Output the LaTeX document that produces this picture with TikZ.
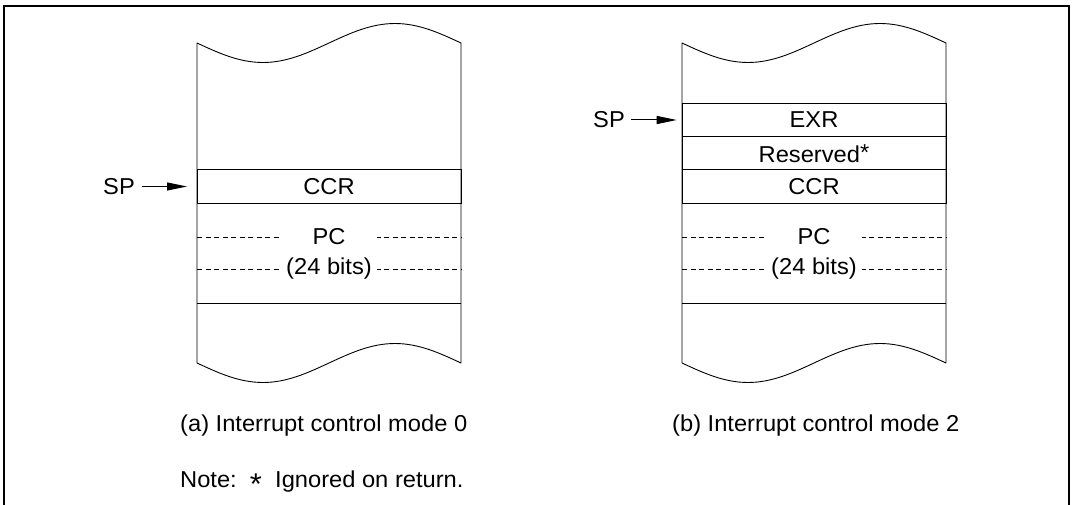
\documentclass[tikz,border=0pt]{standalone}
\usepackage{fontspec}
\setmainfont{Liberation Sans}[FakeStretch=1.03]
\usepackage{tikz}
\usetikzlibrary{positioning,arrows.meta}
\newcommand\bigast{\raisebox{-7pt}{\fontsize{30}{30}\selectfont *}}
\tikzset{
	frm/.style={line width=2.7pt, line cap=rect},
	stk/.style={line width=0.9pt, line join=round},
	row/.style={draw, line width=0.9pt, outer sep=0pt, inner sep=0pt, minimum width=264pt, minimum height=33.3pt},
	gapbox/.style={fill=white, inner sep=0pt, minimum width=96pt, minimum height=14pt},
	dsh/.style={line width=0.8pt, dash pattern=on 5pt off 3.5pt},
	captxt/.style={anchor=base west, inner sep=0pt},
	sptxt/.style={anchor=west, inner sep=0pt},
	arr/.style={-{Triangle[length=20pt,width=8pt]}, line width=1pt},
}

\begin{document}
\begin{tikzpicture}[x=1pt, y=-1pt, font=\fontsize{23}{27}\selectfont]
	\useasboundingbox (0,0) rectangle (1074,505);
	\draw[frm] (4,505) -- (4,6) -- (1069,6) -- (1069,505);
	\foreach \x in {197,682}{
		\draw[stk] (\x,43) sin ++(66,19.5) cos ++(66,-19.5) sin ++(66,-19.5) cos ++(66,19.5) -- ++(0,320)
			sin ++(-66,-19.5) cos ++(-66,19.5) sin ++(-66,19.5) cos ++(-66,-19.5) -- cycle;
		\draw[stk] (\x,303) -- ++(264,0);
		\foreach \y in {237,269} \draw[dsh] (\x,\y) -- ++(264,0);
	}
	\node[row] (ccrA) at (329,186.5) {CCR};
	\node[gapbox] (pcA) at (329,237) {PC};
	\node[gapbox] (bitsA) at (329,269) {(24 bits)};
	\node[sptxt] (spA) at (103,186.5) {SP};
	\draw[arr, shorten <=7pt, shorten >=10pt] (spA) -- (ccrA);
	\node[row] (exrB) at (814,120) {EXR};
	\node[row, below=0pt of exrB] (resB) {Reserved\raisebox{2pt}{*}};
	\node[row, below=0pt of resB] (ccrB) {CCR};
	\node[gapbox] (pcB) at (814,237) {PC};
	\node[gapbox] (bitsB) at (814,269) {(24 bits)};
	\node[sptxt] (spB) at (593,120) {SP};
	\draw[arr, shorten <=6pt, shorten >=5.3pt] (spB) -- (exrB);
	\node[captxt] (capA) at (180,431) {(a) Interrupt control mode 0};
	\node[captxt] (capB) at (672,431) {(b) Interrupt control mode 2};
	\node[captxt] (note) at (180,487) {Note:\ \ \bigast\ \ Ignored on return.};
\end{tikzpicture}
\end{document}
